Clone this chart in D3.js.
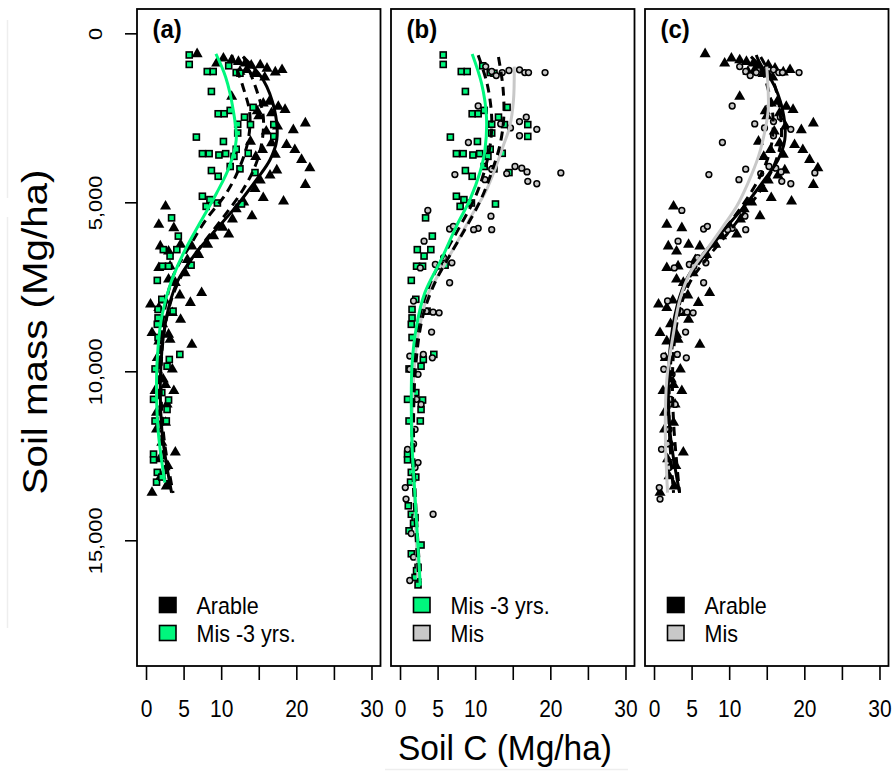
<!DOCTYPE html>
<html>
<head>
<meta charset="utf-8">
<script src="https://cdn.jsdelivr.net/npm/d3@7"></script>
<style>
  body { margin: 0; background: #fff; }
  svg { display: block; }
  text { font-family: "Liberation Sans", Arial, sans-serif; fill: #000; }
</style>
</head>
<body>
<div id="chart"></div>
<script>

// points are [soil C (Mg/ha), soil mass (Mg/ha)]
const arable = [
  [6.8,610],[9.4,890],[10.3,740],[11.4,790],[12.3,840],[13.2,890],[14.0,950],[15.2,940],[16.1,1040],[18.1,1080],
  [17.2,1150],[12.5,1130],[13.4,1080],[14.5,1200],[15.8,1300],[11.4,1870],
  [15.6,2070],[16.4,2020],[17.6,2170],[18.5,2260],[16.7,2360],[15.0,2450],[14.8,2300],
  [21.2,2660],[19.6,2860],[17.5,2750],[16.0,2900],
  [18.7,3300],[19.8,3450],[16.7,3250],[17.2,3590],[13.9,3200],[14.6,3650],[15.5,3450],
  [20.7,3740],[21.8,3990],[21.2,4480],[17.4,4050],[16.5,4200],[15.2,4350],[14.5,4600],
  [15.6,4870],[18.3,4970],[13.0,5000],[12.0,5200],[14.1,5410],[11.5,5500],[10.2,5750],[11.0,5950],[9.0,6000],[8.2,6250],
  [2.6,5120],[1.7,5660],[3.7,5760],[1.9,6300],[3.0,6450],[4.6,6250],[6.1,6300],[7.0,6550],[5.5,6700],
  [1.7,6940],[3.2,6890],[5.2,7090],[3.0,7280],[3.9,7380],[7.4,7680],[4.5,7750],[0.6,8020],[1.7,8120],
  [3.5,8270],[5.9,7970],[2.5,7900],[0.8,8860],[3.0,8910],[4.6,8470],[2.2,8600],
  [6.1,9210],[3.2,9060],[1.7,9110],[3.5,9940],[2.3,10240],[3.7,10580],[1.2,10580],[2.8,10980],
  [1.4,11220],[2.6,11520],[1.4,11720],[2.1,12110],[3.9,12400],[2.9,12800],[2.0,13100],[0.8,13590],
  [2.7,13400],[1.5,9600],[2.6,10400],[1.8,12600]
]

const mis3 = [
  [5.75,640],[5.75,920],[8.15,1130],[8.94,1130],[11.0,960],[12.0,1160],[12.5,1180],[8.7,1720],
  [9.6,2380],[10.4,2380],[11.2,2280],[14.25,2190],[13.1,2480],[13.9,2700],[17.0,2700],[17.0,3050],
  [12.2,2950],[12.2,2690],[6.7,3070],[10.3,3200],[12.0,3430],[7.5,3560],[8.4,3560],[9.7,3600],
  [10.6,3560],[13.6,3550],[11.7,3640],[8.7,4060],[9.6,4230],[11.2,3940],[12.5,4010],[14.5,4120],
  [7.5,4820],[8.5,4920],[9.5,5020],[12.7,5050],[8.0,5120],[3.4,5460],[4.3,6000],[2.3,6400],
  [3.2,6590],[4.1,6400],[2.2,6890],[3.0,6890],[6.0,6860],[1.5,7310],[3.6,8220],[2.1,7870],
  [1.6,8170],[1.6,8420],[1.5,8610],
  [4.5,9500],[3.1,9650],[2.8,9850],[1.2,9930],[1.6,9000],[2.1,10630],[3.0,10850],[2.8,11130],
  [1.0,10830],[2.7,11470],[1.2,11470],[1.0,12450],[1.0,12620],[1.5,12990],[1.4,13280],[2.1,13130],
  [1.1,13980],[1.5,14230],[2.0,14330],[1.2,14720],[2.8,15140],[2.4,15800],[2.2,15900],[2.4,16320],
  [1.8,14500],[1.5,15400],[2.0,16100]
]

const mis = [
  [11.4,985],[12.2,1130],[13.6,1160],[15.9,1080],[16.6,1160],[17.1,1160],[19.3,1160],[12.8,1250],[14.5,1100],
  [10.4,2150],[13.4,2680],[15.9,2610],[16.8,2480],[18.2,2840],[15.9,3030],[14.7,2800],[9.1,3230],
  [7.3,4180],[15.3,3940],[16.2,3990],[16.9,4100],[14.2,4150],[17.0,4380],[18.2,4450],[21.4,4130],
  [11.3,4330],[12.2,4020],
  [3.7,5240],[12.1,5410],[12.2,5810],[10.4,5770],[9.8,5810],[6.6,5790],[7.1,5710],[3.2,6150],
  [5.8,6640],[4.7,6840],[5.3,6890],[2.7,6940],[6.9,6790],[6.6,7380],[1.8,7920],[3.5,8220],
  [4.4,8250],[5.2,8270],[4.2,8840],
  [4.3,9600],[3.1,9500],[1.3,9550],[2.4,10090],[1.3,9940],[2.8,10980],[2.2,10830],[2.0,11720],
  [1.0,12310],[1.8,12150],[2.4,12700],[2.0,12850],[0.7,13440],[0.8,13780],[4.4,14230],[1.3,16190],
  [1.5,14800],[1.8,15500]
]

// fitted profiles
const arableFit = [[12.9,690],[15.6,1380],[17.1,2265],[17.4,3150],[16.5,3740],[14.7,4330],[12.0,5120],[8.9,5910],[6.3,6600],[4.1,7380],[2.75,8370],[2.0,9740],[2.1,11720],[3.4,13590]]
const mis3FitA = [[9.3,610],[10.6,1300],[11.6,2265],[12.0,3150],[11.1,3940],[9.4,4725],[7.2,5600],[5.0,6500],[3.3,7380],[2.1,8370],[1.6,9300],[1.4,10240],[1.6,11720],[2.5,13290]]
const mis3FitB = [[9.6,610],[10.85,1480],[11.5,2460],[11.3,3450],[10.6,4140],[9.3,4920],[7.5,5710],[5.5,6690],[3.3,7680],[2.2,8660],[1.6,9800],[1.5,11000],[1.6,12200],[2.0,13700],[2.7,16340]]
const misFitB = [[15.2,985],[15.1,1970],[14.6,2760],[13.7,3350],[12.6,4040],[11.3,4730],[9.7,5320],[7.8,6100],[5.8,6890],[3.8,7680],[2.9,8370],[2.2,9200],[1.8,10240],[1.6,11720],[1.9,13680],[2.4,16140]]
const misFitC = [[15.0,985],[15.2,1770],[15.2,2260],[14.7,2950],[13.9,3640],[12.5,4430],[11.0,5120],[9.2,5710],[7.0,6400],[4.8,7090],[3.45,7870],[2.6,8860],[1.7,10240],[1.5,11720],[1.8,13590]]

const dashA1 = [[11.4,640],[12.9,1580],[13.8,2360],[13.6,3150],[12.5,3940],[10.7,4725],[8.0,5510],[5.8,6300],[3.6,7190],[2.4,8300],[1.8,9700],[2.0,11700],[3.0,13500]]
const dashA2 = [[13.0,700],[14.7,1670],[15.6,2460],[15.4,3250],[14.5,3940],[12.9,4630],[10.7,5320],[8.0,6100],[5.4,6900],[3.5,7800],[2.3,9000],[2.0,10500],[2.4,12000],[3.6,13600]]
const dashB1 = [[10.4,650],[11.6,1500],[12.2,2500],[12.0,3300],[11.2,4100],[9.9,4900],[8.0,5700],[6.0,6500],[4.0,7400],[2.6,8400],[1.8,9800],[1.6,11500],[1.8,13500],[2.5,16200]]
const dashB2 = [[13.1,700],[13.7,1600],[13.8,2500],[13.3,3300],[12.2,4100],[10.8,4900],[8.9,5700],[6.8,6500],[4.6,7400],[3.0,8400],[2.1,9800],[1.8,11500],[2.0,13500],[2.7,16200]]
const dashC1 = [[13.6,640],[15.0,1500],[15.8,2400],[15.7,3200],[14.8,3900],[13.2,4600],[11.1,5300],[8.7,6000],[6.3,6700],[4.3,7400],[3.0,8400],[2.2,9800],[2.0,11500],[2.6,13600]]
const dashC2 = [[14.2,700],[16.0,1500],[16.8,2400],[16.9,3200],[16.0,3900],[14.3,4600],[12.0,5300],[9.5,6000],[6.9,6700],[4.7,7400],[3.2,8400],[2.5,9800],[2.6,11500],[3.4,13600]]

const xTicks = [0, 5, 10, 15, 20, 25, 30]
const xTickLabels = ["0", "5", "10", "", "20", "", "30"]
const yTicks = [0, 5000, 10000, 15000]

const GREEN = "#00F77D", GREY = "#C8C8C8"

const width = 893, height = 771
const panelW = 243.5, plotTop = 9, plotBottom = 666
const shallow = 13800   // depth shared with the arable samples

const panels = [
  { tag: "(a)", left: 137, groups: ["arable", "mis3"], maxMass: shallow,
    lines: [
      { d: arableFit, color: "#000" }, { d: dashA1, color: "#000", dash: true },
      { d: dashA2, color: "#000", dash: true }, { d: mis3FitA, color: GREEN } ],
    legend: [["Arable", "#000"], ["Mis -3 yrs.", GREEN]] },
  { tag: "(b)", left: 391, groups: ["mis3", "mis"], maxMass: Infinity,
    lines: [
      { d: misFitB, color: GREY }, { d: dashB1, color: "#000", dash: true },
      { d: dashB2, color: "#000", dash: true }, { d: mis3FitB, color: GREEN } ],
    legend: [["Mis -3 yrs.", GREEN], ["Mis", GREY]] },
  { tag: "(c)", left: 645, groups: ["arable", "mis"], maxMass: shallow,
    lines: [
      { d: arableFit, color: "#000" }, { d: dashC1, color: "#000", dash: true },
      { d: dashC2, color: "#000", dash: true }, { d: misFitC, color: GREY } ],
    legend: [["Arable", "#000"], ["Mis", GREY]] }
]

const groupData = { arable: arable, mis3: mis3, mis: mis }

const svg = d3.select("#chart").append("svg")
  .attr("width", width).attr("height", height)

// faint edge marks that sit in the original figure
svg.append("line").attr("x1", 7.5).attr("x2", 7.5).attr("y1", 20).attr("y2", 198)
  .attr("stroke", "#eeeeee").attr("stroke-width", 1.5)
svg.append("line").attr("x1", 7.5).attr("x2", 7.5).attr("y1", 217).attr("y2", 628)
  .attr("stroke", "#eeeeee").attr("stroke-width", 1.5)
svg.append("line").attr("x1", 385).attr("x2", 628).attr("y1", 769.5).attr("y2", 769.5)
  .attr("stroke", "#eeeeee").attr("stroke-width", 1.5)

const y = d3.scaleLinear().domain([-720, 18720]).range([plotTop, plotBottom])

const tri = d3.symbol().type(d3.symbolTriangle).size(48)

panels.forEach(p => {
  const x = d3.scaleLinear().domain([-1.2, 31.2]).range([p.left, p.left + panelW])
  const g = svg.append("g")

  const line = d3.line()
    .x(d => x(d[0])).y(d => y(d[1]))
    .curve(d3.curveCatmullRom.alpha(0.5))

  p.groups.forEach(name => {
    const pts = groupData[name].filter(d => d[1] <= p.maxMass)
    if (name == "arable") {
      g.selectAll(null).data(pts).enter().append("path")
        .attr("d", tri)
        .attr("transform", d => `translate(${x(d[0])},${y(d[1])}) scale(1.05,1.05)`)
        .attr("fill", "#000")
    } else if (name == "mis3") {
      g.selectAll(null).data(pts).enter().append("rect")
        .attr("x", d => x(d[0]) - 3).attr("y", d => y(d[1]) - 3)
        .attr("width", 6).attr("height", 6)
        .attr("fill", GREEN).attr("stroke", "#000").attr("stroke-width", 1.6)
    } else {
      g.selectAll(null).data(pts).enter().append("circle")
        .attr("cx", d => x(d[0])).attr("cy", d => y(d[1])).attr("r", 2.9)
        .attr("fill", GREY).attr("stroke", "#000").attr("stroke-width", 1.5)
    }
  })

  p.lines.forEach(l => {
    g.append("path")
      .attr("d", line(l.d))
      .attr("fill", "none")
      .attr("stroke", l.color)
      .attr("stroke-width", 3)
      .attr("stroke-dasharray", l.dash ? "9,6" : null)
  })

  // box
  svg.append("rect")
    .attr("x", p.left).attr("y", plotTop)
    .attr("width", panelW).attr("height", plotBottom - plotTop)
    .attr("fill", "none").attr("stroke", "#000").attr("stroke-width", 1.8)

  svg.append("text")
    .attr("transform", `translate(${p.left + 15.5},38) scale(1,1.05)`)
    .attr("font-size", 24).attr("font-weight", "bold")
    .text(p.tag)

  // legend
  p.legend.forEach((item, i) => {
    svg.append("rect")
      .attr("x", p.left + 22.5).attr("y", 597.5 + i * 28)
      .attr("width", 16.5).attr("height", 15)
      .attr("fill", item[1]).attr("stroke", "#000").attr("stroke-width", 1.6)
    svg.append("text")
      .attr("transform", `translate(${p.left + 59.5},${613.5 + i * 28}) scale(1,1.1)`)
      .attr("font-size", 21.5)
      .text(item[0])
  })

  const xAxis = d3.axisBottom(x)
    .tickValues(xTicks)
    .tickSize(14)
    .tickFormat((d, i) => xTickLabels[i])

  const ax = svg.append("g")
    .attr("transform", `translate(0,${plotBottom})`)
    .call(xAxis)
  ax.select(".domain").remove()
  ax.selectAll(".tick line").attr("stroke", "#000").attr("stroke-width", 1.6)
  ax.selectAll(".tick text")
    .attr("y", 0).attr("dy", null)
    .attr("transform", "translate(0,50.5) scale(1,1.12)")
    .attr("font-size", 21).attr("font-family", null)
})

// y axis on the first panel
const yAxis = d3.axisLeft(y)
  .tickValues(yTicks)
  .tickSize(12)
  .tickFormat(d3.format(","))

const ay = svg.append("g")
  .attr("transform", `translate(${panels[0].left},0)`)
  .call(yAxis)
ay.select(".domain").remove()
ay.selectAll(".tick line").attr("stroke", "#000").attr("stroke-width", 1.6)
ay.selectAll(".tick text")
  .attr("x", 0).attr("dy", null)
  .attr("text-anchor", "middle")
  .attr("transform", "translate(-35,0) scale(1,1.15) rotate(-90)")
  .attr("font-size", 19).attr("font-family", null)

svg.append("text")
  .attr("transform", "translate(46.5,332) scale(1,1.12) rotate(-90)")
  .attr("text-anchor", "middle")
  .attr("font-size", 36)
  .text("Soil mass (Mg/ha)")

svg.append("text")
  .attr("transform", "translate(505,760) scale(1,1.05)")
  .attr("text-anchor", "middle")
  .attr("font-size", 33.5)
  .text("Soil C (Mg/ha)")

</script>
</body>
</html>
